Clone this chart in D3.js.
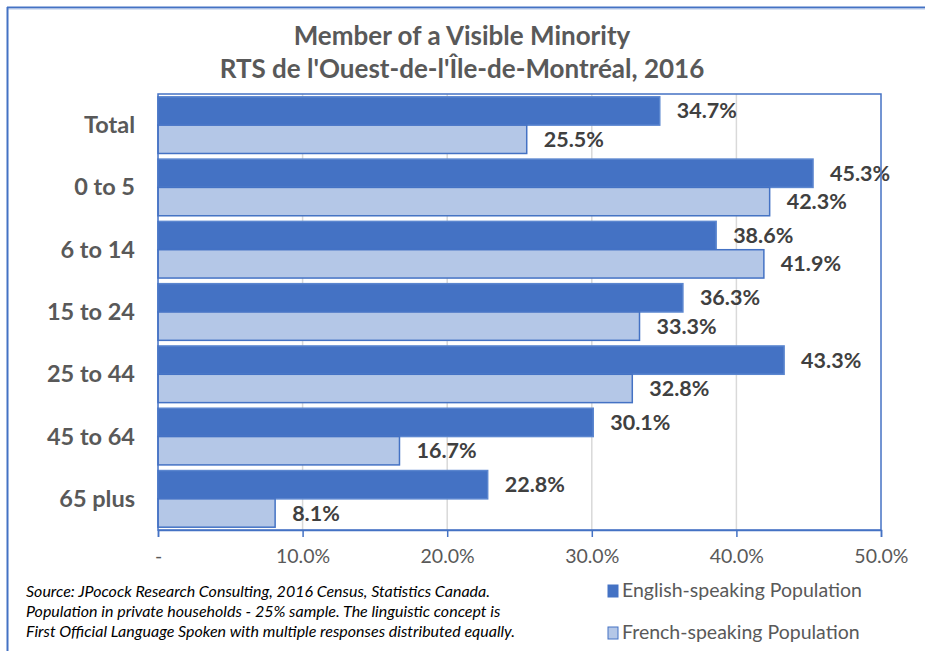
<!DOCTYPE html>
<html>
<head>
<meta charset="utf-8">
<script src="https://cdn.jsdelivr.net/npm/d3@7"></script>
<style>
  body { margin: 0; background: #fff; }
  text { font-family: Lato, "Open Sans", sans-serif; }
</style>
</head>
<body>
<div id="my_dataviz"></div>
<script>
// chart data
var categories = ["Total", "0 to 5", "6 to 14", "15 to 24", "25 to 44", "45 to 64", "65 plus"];
var english = [34.7, 45.3, 38.6, 36.3, 43.3, 30.1, 22.8];
var french = [25.5, 42.3, 41.9, 33.3, 32.8, 16.7, 8.1];
var seriesNames = ["English-speaking Population", "French-speaking Population"];
var seriesColors = ["#4472C4", "#B4C7E7"];
var tickValues = [0, 10, 20, 30, 40, 50];
var titleLines = ["Member of a Visible Minority", "RTS de l'Ouest-de-l'Île-de-Montréal, 2016"];
var sourceLines = [
  "Source: JPocock Research Consulting, 2016 Census, Statistics Canada.",
  "Population in private households - 25% sample. The linguistic concept is",
  "First Official Language Spoken with multiple responses distributed equally."
];

var W = 925, H = 651;
var margin = {top: 94, right: 44, bottom: 121, left: 158},
  width = W - margin.left - margin.right,
  height = H - margin.top - margin.bottom;

var root = d3.select("#my_dataviz")
.append("svg")
  .attr("width", W)
  .attr("height", H);

// outer frame (top and left edges visible)
root.append("line").attr("x1", 7).attr("x2", W).attr("y1", 7.5).attr("y2", 7.5)
  .style("stroke", "#4472C4").style("stroke-width", 2);
root.append("line").attr("x1", 7).attr("x2", W).attr("y1", 9).attr("y2", 9)
  .style("stroke", "#B4C7E7").style("stroke-width", 1);
root.append("line").attr("x1", 7.5).attr("x2", 7.5).attr("y1", 7).attr("y2", H)
  .style("stroke", "#4472C4").style("stroke-width", 2);

// title
root.selectAll(".title")
  .data(titleLines)
  .enter()
  .append("text")
    .attr("class", "title")
    .attr("x", 462)
    .attr("y", function(d, i) { return 45 + i * 33; })
    .attr("text-anchor", "middle")
    .style("font-size", "26px")
    .style("font-weight", "bold")
    .style("fill", "#595959")
    .text(function(d) { return d; });

var svg = root.append("g")
  .attr("transform", "translate(" + margin.left + "," + margin.top + ")");

// scales
var x = d3.scaleLinear()
  .domain([0, 50])
  .range([0, width]);

var y = d3.scaleBand()
  .domain(categories)
  .range([0, height])
  .paddingInner(0.09)
  .paddingOuter(0.045);

var sub = d3.scaleBand()
  .domain([0, 1])
  .range([0, y.bandwidth()]);

// gridlines
svg.append("g")
  .selectAll("line")
  .data(tickValues.slice(1, -1))
  .enter()
  .append("line")
    .attr("x1", function(d) { return x(d); })
    .attr("x2", function(d) { return x(d); })
    .attr("y1", 0)
    .attr("y2", height)
    .style("stroke", "#D9D9D9")
    .style("stroke-width", 1.5);

// bars
var series = [english, french];
series.forEach(function(vals, s) {
  svg.append("g")
    .selectAll("rect")
    .data(vals)
    .enter()
    .append("rect")
      .attr("x", 0)
      .attr("y", function(d, i) { return y(categories[i]) + sub(s); })
      .attr("width", function(d) { return x(d); })
      .attr("height", sub.bandwidth())
      .style("fill", seriesColors[s])
      .style("stroke", s === 0 ? "#5B86CF" : "#4472C4")
      .style("stroke-width", 1.5);

  // value labels
  svg.append("g")
    .selectAll("text")
    .data(vals)
    .enter()
    .append("text")
      .attr("x", function(d) { return x(d) + 17; })
      .attr("y", function(d, i) { return y(categories[i]) + sub(s) + sub.bandwidth() / 2 + 2; })
      .attr("dominant-baseline", "middle")
      .style("font-size", "21.5px")
      .style("font-weight", "bold")
      .style("fill", "#404040")
      .text(function(d) { return d.toFixed(1) + "%"; });
});

// plot area border
svg.append("rect")
  .attr("x", 0).attr("y", 0)
  .attr("width", width).attr("height", height)
  .style("fill", "none")
  .style("stroke", "#4472C4")
  .style("stroke-width", 1.5);

// category labels
svg.append("g")
  .selectAll("text")
  .data(categories)
  .enter()
  .append("text")
    .attr("x", -23)
    .attr("y", function(d) { return y(d) + y.bandwidth() / 2 + 2; })
    .attr("text-anchor", "end")
    .attr("dominant-baseline", "middle")
    .style("font-size", "23.5px")
    .style("font-weight", "bold")
    .style("fill", "#595959")
    .text(function(d) { return d; });

// x axis
var xAxis = svg.append("g")
  .attr("transform", "translate(0," + height + ")")
  .call(d3.axisBottom(x)
    .tickValues(tickValues)
    .tickSize(7)
    .tickPadding(12)
    .tickFormat(function(d) { return d === 0 ? "-" : d.toFixed(1) + "%"; }));
xAxis.select(".domain").style("stroke", "#4472C4").style("stroke-width", 1.5);
xAxis.selectAll(".tick line").style("stroke", "#4472C4").style("stroke-width", 1.5);
xAxis.selectAll(".tick text")
  .style("font-family", "Lato, sans-serif")
  .style("font-size", "19.5px")
  .style("fill", "#595959")
  .attr("text-anchor", function(d) { return d === 0 ? "middle" : "end"; })
  .attr("dx", function(d) { return d === 0 ? 0 : 27; });

// source note
root.selectAll(".source")
  .data(sourceLines)
  .enter()
  .append("text")
    .attr("class", "source")
    .attr("x", 26)
    .attr("y", function(d, i) { return 597 + i * 20; })
    .style("font-size", "16px")
    .style("font-style", "italic")
    .style("fill", "#000")
    .text(function(d) { return d; });

// legend
var legend = root.selectAll(".legend")
  .data(seriesNames)
  .enter()
  .append("g")
    .attr("class", "legend")
    .attr("transform", function(d, i) { return "translate(608," + (591 + i * 42) + ")"; });
legend.append("rect")
  .attr("x", 0).attr("y", -6)
  .attr("width", 10).attr("height", 12)
  .style("fill", function(d, i) { return seriesColors[i]; })
  .style("stroke", "#4472C4")
  .style("stroke-width", 1);
legend.append("text")
  .attr("x", 14)
  .attr("y", 1)
  .attr("dominant-baseline", "middle")
  .style("font-size", "19.5px")
  .style("fill", "#595959")
  .text(function(d) { return d; });
</script>
</body>
</html>
